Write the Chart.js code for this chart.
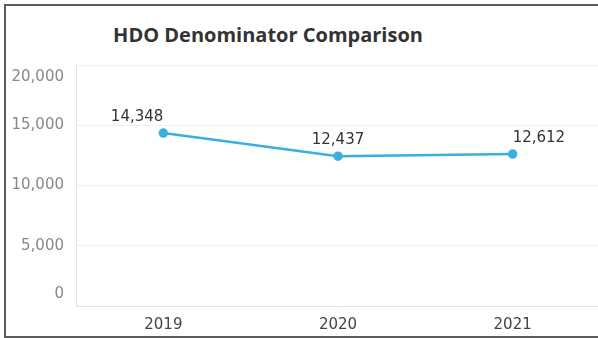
<!DOCTYPE html>
<html lang="en">
<head>
    <meta charset="UTF-8">
    <title>HDO Denominator Comparison</title>
    <script src="https://cdn.jsdelivr.net/npm/chart.js"></script>
    <style>
        html, body { margin: 0; padding: 0; background: #fff; overflow: hidden; width: 598px; height: 338px; }
        #frame {
            position: absolute; left: 4px; top: 4px;
            width: 700px; height: 330px;
            border: 2px solid #5c5c5c; border-right: none;
        }
        #title {
            position: absolute; left: 0; top: 15px; width: 524px;
            text-align: center;
            font-family: "Open Sans", sans-serif; font-weight: 700; font-size: 20px;
            color: #333;
        }
        #box { position: absolute; left: 0; top: 0; width: 600px; height: 330px; }
    </style>
</head>
<body>
    <div id="frame">
        <div id="title">HDO Denominator Comparison</div>
        <div id="box"><canvas id="hdoChart"></canvas></div>
    </div>

    <script>
        // yearly denominator counts
        const years = ['2019', '2020', '2021'];
        const denominators = [14348, 12437, 12612];
        const yTicks = [0, 5000, 10000, 15000, 20000];

        const fmt = v => v.toLocaleString('en-US');

        // value labels above each point; end labels hang away from the edges
        const pointLabels = {
            id: 'pointLabels',
            afterDatasetsDraw(chart) {
                const ctx = chart.ctx;
                const meta = chart.getDatasetMeta(0);
                ctx.save();
                ctx.font = '15px "DejaVu Sans", sans-serif';
                ctx.fillStyle = '#333';
                ctx.textBaseline = 'middle';
                meta.data.forEach((pt, i) => {
                    ctx.textAlign = i === 0 ? 'right' : (i === meta.data.length - 1 ? 'left' : 'center');
                    ctx.fillText(fmt(denominators[i]), pt.x, pt.y - 16);
                });
                ctx.restore();
            }
        };

        new Chart(document.getElementById('hdoChart'), {
            type: 'line',
            data: {
                labels: years,
                datasets: [{
                    data: denominators,
                    borderColor: '#3aafe0',
                    backgroundColor: '#3aafe0',
                    borderWidth: 2.5,
                    pointRadius: 3.5,
                    pointHoverRadius: 3.5,
                    tension: 0
                }]
            },
            options: {
                responsive: true,
                maintainAspectRatio: false,
                animation: false,
                layout: { padding: { top: 59, right: 0, bottom: 0, left: 0 } },
                plugins: {
                    legend: { display: false },
                    title: { display: false },
                    tooltip: { enabled: false }
                },
                scales: {
                    x: {
                        offset: true,
                        grid: { display: false, drawTicks: false },
                        border: { display: true, color: '#e4e4e4', width: 1 },
                        ticks: {
                            padding: 10,
                            color: '#444',
                            font: { family: 'DejaVu Sans', size: 15 }
                        },
                        afterFit(scale) { scale.height = 30; }
                    },
                    y: {
                        min: 0,
                        max: 20000,
                        afterBuildTicks(scale) { scale.ticks = yTicks.map(v => ({ value: v })); },
                        grid: { color: '#efefef', drawTicks: false },
                        border: { display: true, color: '#e4e4e4', width: 1 },
                        ticks: {
                            autoSkip: false,
                            padding: 12,
                            color: '#888',
                            font: { family: 'DejaVu Sans', size: 15, lineHeight: 1.6 },
                            // end labels sit inside the axis range
                            callback(v) {
                                if (v === 20000) return ['', fmt(v)];
                                if (v === 0) return [fmt(v), ''];
                                return fmt(v);
                            }
                        },
                        afterFit(scale) {
                            scale.width = 70;
                            scale.paddingTop = 0;
                            scale.paddingBottom = 0;
                        }
                    }
                }
            },
            plugins: [pointLabels]
        });
    </script>
</body>
</html>
